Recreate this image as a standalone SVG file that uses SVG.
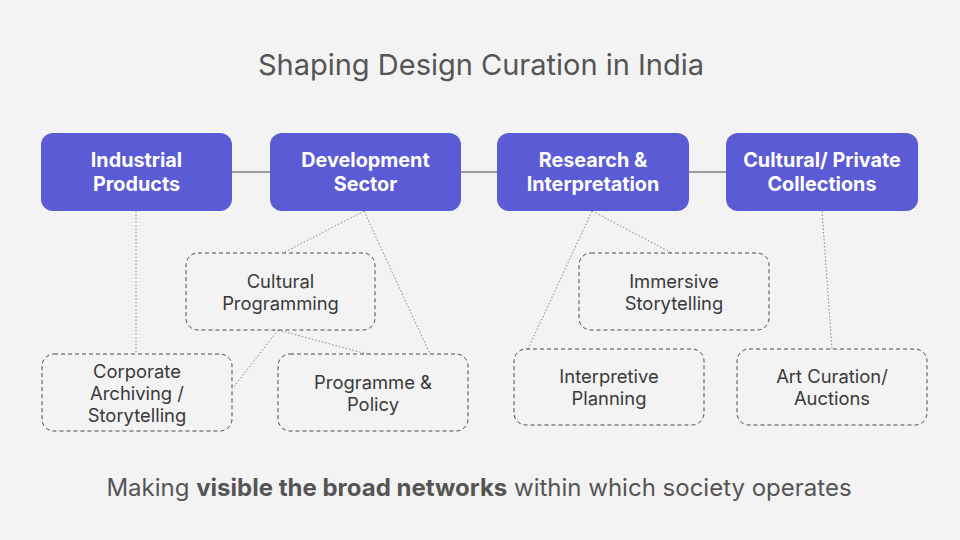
<svg xmlns="http://www.w3.org/2000/svg" width="960" height="540" viewBox="0 0 960 540">
<style>
.bg{fill:#f3f3f3}
.main rect{fill:#5b5bd5}
.main text{fill:#ffffff;font-family:Inter,"Liberation Sans",sans-serif;font-weight:700;font-size:19.8px;text-anchor:middle}
.sub rect{fill:none;stroke:#4a4a4a;stroke-width:1;stroke-dasharray:4 3}
.sub text{fill:#3a3a3a;font-family:Inter,"Liberation Sans",sans-serif;font-size:18.4px;text-anchor:middle}
.solid{stroke:#444;stroke-width:1.2;fill:none}
.dot{stroke:#888;stroke-width:1;stroke-dasharray:1.5 2;fill:none}
.title{fill:#555;font-family:Inter,"Liberation Sans",sans-serif;font-size:29px;text-anchor:middle}
.foot{fill:#555;font-family:Inter,"Liberation Sans",sans-serif;font-size:24px;text-anchor:middle}
</style>
<rect class="bg" x="0" y="0" width="960" height="540"/>
<text class="title" x="481" y="75">Shaping Design Curation in India</text>
<g id="connectors">
<line class="solid" x1="232" y1="172" x2="270" y2="172"/>
<line class="solid" x1="461" y1="172" x2="497" y2="172"/>
<line class="solid" x1="689" y1="172" x2="726" y2="172"/>
<line class="dot" x1="136" y1="211" x2="136" y2="354"/>
<line class="dot" x1="364" y1="211" x2="283" y2="253"/>
<line class="dot" x1="364" y1="211" x2="430" y2="354"/>
<line class="dot" x1="278" y1="330" x2="233" y2="388"/>
<line class="dot" x1="278" y1="330" x2="367" y2="354"/>
<line class="dot" x1="592" y1="211" x2="672" y2="253"/>
<line class="dot" x1="592" y1="211" x2="528" y2="349"/>
<line class="dot" x1="822" y1="211" x2="832" y2="349"/>
</g>
<g id="industrial" class="main"><rect x="41" y="133" width="191" height="78" rx="12"/><text x="136.5" y="167">Industrial</text><text x="136.5" y="191">Products</text></g>
<g id="development" class="main"><rect x="270" y="133" width="191" height="78" rx="12"/><text x="365.5" y="167">Development</text><text x="365.5" y="191">Sector</text></g>
<g id="research" class="main"><rect x="497" y="133" width="192" height="78" rx="12"/><text x="593" y="167">Research &amp;</text><text x="593" y="191">Interpretation</text></g>
<g id="cultural" class="main"><rect x="726" y="133" width="192" height="78" rx="12"/><text x="822" y="167">Cultural/ Private</text><text x="822" y="191">Collections</text></g>
<g id="cultural-programming" class="sub"><rect x="186" y="253" width="189" height="77" rx="12"/><text x="280.5" y="288">Cultural</text><text x="280.5" y="310">Programming</text></g>
<g id="corporate" class="sub"><rect x="42" y="354" width="190" height="77" rx="12"/><text x="137" y="378">Corporate</text><text x="137" y="400">Archiving /</text><text x="137" y="422">Storytelling</text></g>
<g id="programme" class="sub"><rect x="278" y="354" width="190" height="77" rx="12"/><text x="373" y="389">Programme &amp;</text><text x="373" y="411">Policy</text></g>
<g id="immersive" class="sub"><rect x="579" y="253" width="190" height="77" rx="12"/><text x="674" y="288">Immersive</text><text x="674" y="310">Storytelling</text></g>
<g id="interpretive" class="sub"><rect x="514" y="349" width="190" height="76" rx="12"/><text x="609" y="383">Interpretive</text><text x="609" y="405">Planning</text></g>
<g id="art" class="sub"><rect x="737" y="349" width="190" height="76" rx="12"/><text x="832" y="383">Art Curation/</text><text x="832" y="405">Auctions</text></g>
<text class="foot" x="479" y="496">Making <tspan font-weight="700">visible the broad networks</tspan> within which society operates</text>
</svg>
